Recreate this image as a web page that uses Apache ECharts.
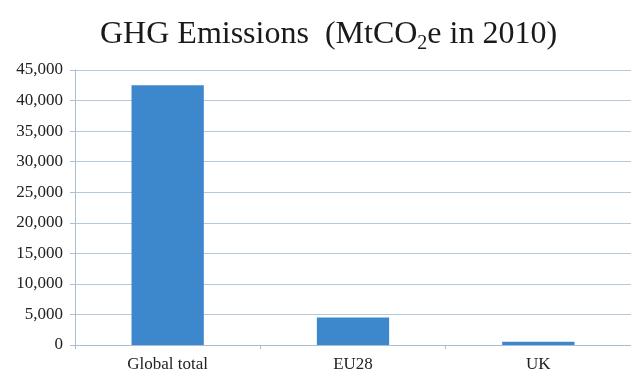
<!DOCTYPE html>
<html>
<head>
<meta charset="utf-8">
<script src="https://cdn.jsdelivr.net/npm/echarts@6/dist/echarts.min.js"></script>
<style>
  html, body { margin: 0; padding: 0; background: #fff; }
  #chart { width: 631px; height: 376px; }
</style>
</head>
<body>
<div id="chart"></div>
<script>
var categories = ['Global total', 'EU28', 'UK'];
var emissions = [42500, 4500, 550];
var yTicks = [0, 5000, 10000, 15000, 20000, 25000, 30000, 35000, 40000, 45000];

var chart = echarts.init(document.getElementById('chart'));

var option = {
    animation: false,
    title: {
        text: '{t|GHG Emissions  (MtCO}{s|2}{t|e in 2010)}',
        left: 95,
        top: 11,
        textStyle: {
            rich: {
                t: { fontFamily: 'Liberation Serif', fontWeight: 'normal', fontSize: 32, color: '#1a1a1a' },
                s: { fontFamily: 'Liberation Serif', fontWeight: 'normal', fontSize: 20, color: '#1a1a1a', padding: [18, 0, 0, 0] }
            }
        }
    },
    grid: { left: 75, right: 0, top: 70, bottom: 31 },
    xAxis: {
        type: 'category',
        data: categories,
        axisLine: { lineStyle: { color: '#a9bdd3' } },
        axisTick: { show: true, alignWithLabel: false, length: 4, lineStyle: { color: '#a9bdd3' } },
        axisLabel: { fontFamily: 'Liberation Serif', fontSize: 17, color: '#222', margin: 11 }
    },
    yAxis: {
        type: 'value',
        min: yTicks[0],
        max: yTicks[yTicks.length - 1],
        interval: 5000,
        axisLine: { show: true, lineStyle: { color: '#a9bdd3' } },
        axisTick: { show: true, length: 5, inside: false, lineStyle: { color: '#a9bdd3' } },
        splitLine: { lineStyle: { color: '#b5c8dc' } },
        axisLabel: {
            fontFamily: 'Liberation Serif',
            fontSize: 17,
            color: '#222',
            margin: 12,
            formatter: function (v) { return v.toLocaleString('en-US'); }
        }
    },
    series: [{
        type: 'bar',
        data: emissions,
        barWidth: '39%',
        itemStyle: { color: '#3d87cc' }
    }]
};

chart.setOption(option);
</script>
</body>
</html>
